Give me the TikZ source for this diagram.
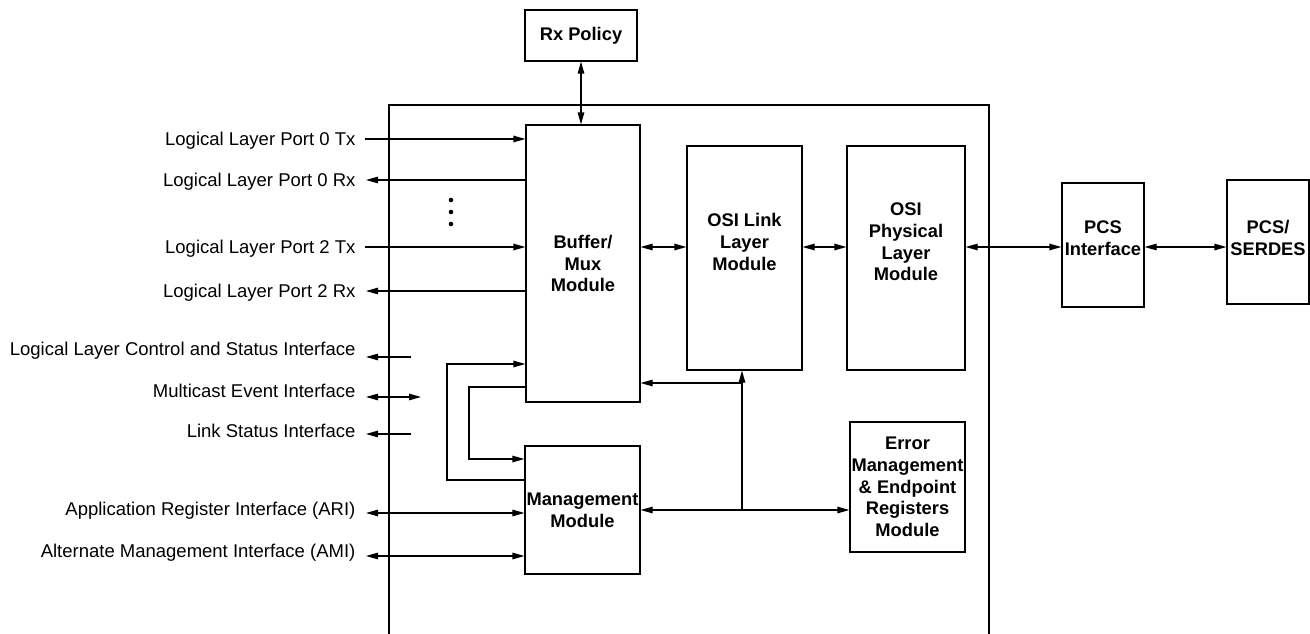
\documentclass[tikz,border=0pt]{standalone}
\usepackage{fontspec}
\setmainfont{Liberation Sans}
\usetikzlibrary{arrows.meta}
\newcommand\lblfont{\fontsize{18.5}{22}\selectfont}
\newcommand\boxfont{\fontsize{18.3}{21.7}\selectfont\bfseries}
\begin{document}
\begin{tikzpicture}[x=1pt,y=-1pt,
  >={Triangle[length=12pt,width=6.5pt]},
  every path/.style={line width=1.2pt},
  blk/.style={draw,line width=1.2pt,inner sep=0pt,align=center,font=\boxfont},
  btxt/.style={inner sep=0pt,align=center,font=\boxfont},
  lbl/.style={anchor=base east,inner sep=0pt,font=\lblfont}]
\useasboundingbox (0,0) rectangle (1310,634);
\fill[white] (0,0) rectangle (1310,634);

% outer frame (bottom is off the picture)
\draw (389,634) -- (389,105) -- (989,105) -- (989,634);

% blocks
\node[blk,minimum width=112pt,minimum height=51pt] (rx) at (581,35.5) {Rx Policy};
\node[blk,minimum width=114pt,minimum height=277pt] (buf) at (583,263.5) {Buffer/\\Mux\\Module};
\node[blk,minimum width=115pt,minimum height=128pt] (mgmt) at (582.5,510) {Management\\Module};
\node[blk,minimum width=115pt,minimum height=224pt] (osil) at (744.5,258) {};
\node[btxt] (osilt) at (744.5,242) {OSI Link\\Layer\\Module};
\node[blk,minimum width=118pt,minimum height=224pt] (osip) at (906,258) {};
\node[btxt] (osipt) at (906,242) {OSI\\Physical\\Layer\\Module};
\node[blk,minimum width=115pt,minimum height=130pt] (err) at (907.5,487) {Error\\Management\\\& Endpoint\\Registers\\Module};
\node[blk,minimum width=82pt,minimum height=124pt] (pcsi) at (1103,245) {};
\node[btxt] (pcsit) at (1103,238) {PCS\\Interface};
\node[blk,minimum width=82pt,minimum height=124pt] (serdes) at (1268,242) {};
\node[btxt] (serdest) at (1268,238) {PCS/\\SERDES};

% labels
\node[lbl] (l1) at (356,145.5) {Logical Layer Port 0 Tx};
\node[lbl] (l2) at (356,186.5) {Logical Layer Port 0 Rx};
\node[lbl] (l3) at (356,253.5) {Logical Layer Port 2 Tx};
\node[lbl] (l4) at (356,297.5) {Logical Layer Port 2 Rx};
\node[lbl] (l5) at (356,355.5) {Logical Layer Control and Status Interface};
\node[lbl] (l6) at (356,397.5) {Multicast Event Interface};
\node[lbl] (l7) at (356,437.5) {Link Status Interface};
\node[lbl] (l8) at (356,515.5) {Application Register Interface (ARI)};
\node[lbl] (l9) at (356,557.5) {Alternate Management Interface (AMI)};

% free ends
\coordinate (p0t) at (365,139);
\coordinate (p0r) at (366,180);
\coordinate (p2t) at (365,247);
\coordinate (p2r) at (366,291);
\coordinate (lcsA) at (411,357);
\coordinate (lcsB) at (366,357);
\coordinate (meA) at (366,397);
\coordinate (meB) at (421,397);
\coordinate (lsA) at (411,434);
\coordinate (lsB) at (366,434);
\coordinate (ari) at (366,513);
\coordinate (ami) at (366,556);
\coordinate (rowA) at (0,247);
\coordinate (bus) at (742,0);
\coordinate (rowB) at (0,383);
\coordinate (rowC) at (0,510);

% port connectors
\draw[->] (p0t) -- (p0t -| buf.west);
\draw[->] (p0r -| buf.west) -- (p0r);
\draw[->] (p2t) -- (p2t -| buf.west);
\draw[->] (p2r -| buf.west) -- (p2r);

% dots
\fill (451,200) circle (2.3);
\fill (451,212) circle (2.3);
\fill (451,224) circle (2.3);

% interface stubs
\draw[->] (lcsA) -- (lcsB);
\draw[<->] (meA) -- (meB);
\draw[->] (lsA) -- (lsB);
\draw[<->] (ari) -- (ari -| mgmt.west);
\draw[<->] (ami) -- (ami -| mgmt.west);

% loops between buffer and management
\draw[->] (mgmt.west |- 0,480) -- (447,480) -- (447,364) -- (buf.west |- 0,364);
\draw[->] (buf.west |- 0,387) -- (469,387) -- (469,459) -- (mgmt.west |- 0,459);

% Rx policy
\draw[<->] (rx.south) -- (rx.south |- buf.north);

% horizontal chain
\draw[<->] (buf.east |- rowA) -- (osil.west |- rowA);
\draw[<->] (osil.east |- rowA) -- (osip.west |- rowA);
\draw[<->] (osip.east |- rowA) -- (pcsi.west |- rowA);
\draw[<->] (pcsi.east |- rowA) -- (serdes.west |- rowA);

% internal bus
\draw[->] (bus |- rowC) -- (bus |- osil.south);
\draw[->] (bus |- rowB) -- (buf.east |- rowB);
\draw[<->] (mgmt.east |- rowC) -- (err.west |- rowC);
\end{tikzpicture}
\end{document}
